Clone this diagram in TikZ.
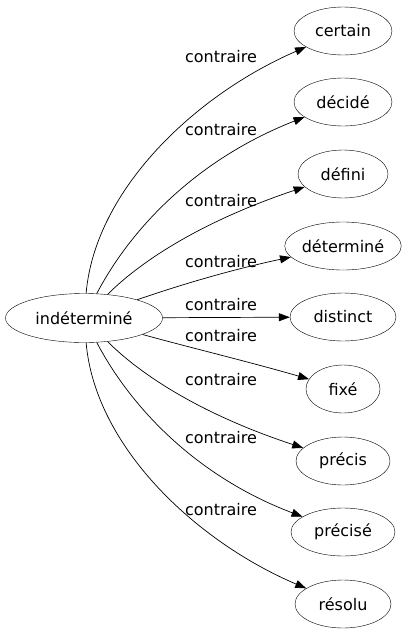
\documentclass[tikz,border=0pt]{standalone}
\usepackage{fontspec}
\setmainfont{DejaVu Sans}
\usetikzlibrary{shapes.geometric}
\usetikzlibrary{arrows.meta}

\begin{document}
\begin{tikzpicture}[x=1pt, y=-1pt,
    word/.style={draw, ellipse, inner sep=0pt, minimum height=48pt,
                 font=\fontsize{16}{19}\selectfont},
    rel/.style={font=\fontsize{16}{19}\selectfont, inner sep=0pt},
    link/.style={line width=0.7pt, -{Triangle[length=11pt,width=8pt]}}]

    % --- Canvas ---
    \useasboundingbox (0,0) rectangle (417,635);

    % --- Adjustable parameters ---
    \def\col{343}  % x of the right column
    \def\lx{221}   % x of the edge labels

    % --- Nodes ---
    \node[word, minimum width=157pt, minimum height=49pt] (src) at (84,318) {indéterminé};
    \node[word, minimum width=98pt]  (certain)   at (\col,31)  {certain};
    \node[word, minimum width=98pt]  (decide)    at (\col,102) {décidé};
    \node[word, minimum width=90pt]  (defini)    at (\col,174) {défini};
    \node[word, minimum width=115pt] (determine) at (\col,246) {déterminé};
    \node[word, minimum width=106pt] (distinct)  at (\col,317) {distinct};
    \node[word, minimum width=74pt]  (fixe)      at (\col,389) {fixé};
    \node[word, minimum width=94pt]  (precis)    at (\col,461) {précis};
    \node[word, minimum width=104pt] (precise)   at (\col,532) {précisé};
    \node[word, minimum width=96pt]  (resolu)    at (\col,604) {résolu};

    % --- Edges ---
    \draw[link] (src) .. controls (95,190) and (195,95) .. (certain);
    \draw[link] (src) .. controls (130,230) and (195,160) .. (decide);
    \draw[link] (src) .. controls (140,262) and (200,222) .. (defini);
    \draw[link] (src) .. controls (180,285) and (230,270) .. (determine);
    \draw[link] (src) -- (distinct);
    \draw[link] (src) .. controls (180,345) and (250,362) .. (fixe);
    \draw[link] (src) .. controls (140,374) and (200,414) .. (precis);
    \draw[link] (src) .. controls (130,406) and (195,476) .. (precise);
    \draw[link] (src) .. controls (95,446) and (195,541) .. (resolu);

    % --- Edge labels ---
    \node[rel] (l1) at (\lx,57)  {contraire};
    \node[rel] (l2) at (\lx,130) {contraire};
    \node[rel] (l3) at (\lx,201) {contraire};
    \node[rel] (l4) at (\lx,262) {contraire};
    \node[rel] (l5) at (\lx,305) {contraire};
    \node[rel] (l6) at (\lx,336) {contraire};
    \node[rel] (l7) at (\lx,380) {contraire};
    \node[rel] (l8) at (\lx,438) {contraire};
    \node[rel] (l9) at (\lx,510) {contraire};

\end{tikzpicture}
\end{document}
